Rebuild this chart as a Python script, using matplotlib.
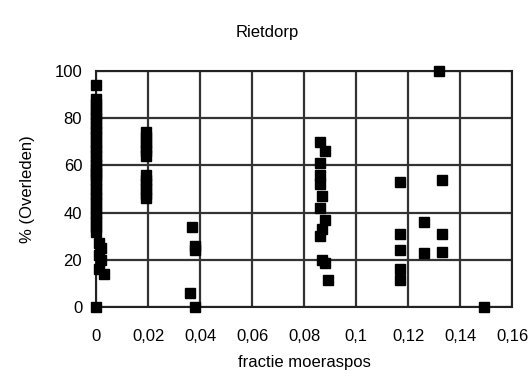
import matplotlib
matplotlib.use("Agg")
import matplotlib.pyplot as plt
from matplotlib.ticker import FixedLocator

title = "Rietdorp"
xlabel = "fractie moeraspos"
ylabel = "% (Overleden)"

xticks = [0, 0.02, 0.04, 0.06, 0.08, 0.1, 0.12, 0.14, 0.16]
xtick_labels = ["0", "0,02", "0,04", "0,06", "0,08", "0,1", "0,12", "0,14", "0,16"]
yticks = [0, 20, 40, 60, 80, 100]
ytick_labels = ["0", "20", "40", "60", "80", "100"]

# column at x = 0 (dense)
x_col0 = [0.0] * 30
y_col0 = [94, 88, 86, 84, 82, 80, 78, 76, 74, 72, 70, 68, 66, 64, 62, 60, 58, 56,
          54, 52, 50, 48, 46, 44, 42, 40, 38, 36, 34, 32]
x_near0 = [0.001, 0.002, 0.001, 0.002, 0.001, 0.003, 0.0, 0.0]
y_near0 = [27, 25, 22, 20, 16, 14, 57, 0]

x_a = [0.019, 0.019, 0.019, 0.019, 0.019, 0.019, 0.019, 0.019, 0.019, 0.019, 0.019, 0.019]
y_a = [74, 72, 70, 68, 66, 64, 56, 54, 52, 50, 48, 46]

x_b = [0.037, 0.038, 0.038, 0.036, 0.038]
y_b = [34, 26, 24, 6, 0]

x_c = [0.086, 0.088, 0.086, 0.086, 0.086, 0.087, 0.086, 0.088, 0.087, 0.086, 0.087, 0.088, 0.089]
y_c = [70, 66, 61, 56, 52, 47, 42, 37, 33, 30, 20, 18.5, 11.5]

x_d = [0.117, 0.117, 0.117, 0.117, 0.117, 0.126, 0.126, 0.133, 0.133, 0.133, 0.132, 0.149]
y_d = [53, 31, 24, 16, 11.5, 36, 23, 54, 31, 23.5, 100, 0]

plt.rcParams['font.family'] = ['Liberation Sans', 'DejaVu Sans']
fig = plt.figure(figsize=(5.28, 3.76), dpi=100)
ax = fig.add_axes([0.182, 0.1835, 0.788, 0.6275])

for xs, ys in [(x_col0, y_col0), (x_near0, y_near0), (x_a, y_a), (x_b, y_b), (x_c, y_c), (x_d, y_d)]:
    ax.plot(xs, ys, linestyle="none", marker="s", markersize=6.5, color="black",
            clip_on=False, zorder=3)

ax.set_xlim(0, 0.16)
ax.set_ylim(0, 100)
ax.xaxis.set_major_locator(FixedLocator(xticks))
ax.yaxis.set_major_locator(FixedLocator(yticks))
ax.set_xticklabels(xtick_labels, fontsize=12)
ax.set_yticklabels(ytick_labels, fontsize=12)
ax.grid(True, color="#333333", linewidth=1.6)
ax.set_axisbelow(True)
for s in ax.spines.values():
    s.set_linewidth(1.5)
    s.set_color("#222222")
ax.tick_params(axis="x", length=0, pad=16)
ax.tick_params(axis="y", length=0, pad=10)
fig.text(267 / 528, 1 - 32 / 376, title, fontsize=12, ha="center", va="center")
ax.set_xlabel(xlabel, fontsize=12, labelpad=8)
ax.set_ylabel(ylabel, fontsize=12, labelpad=14)

fig.savefig("out.png", dpi=100)
